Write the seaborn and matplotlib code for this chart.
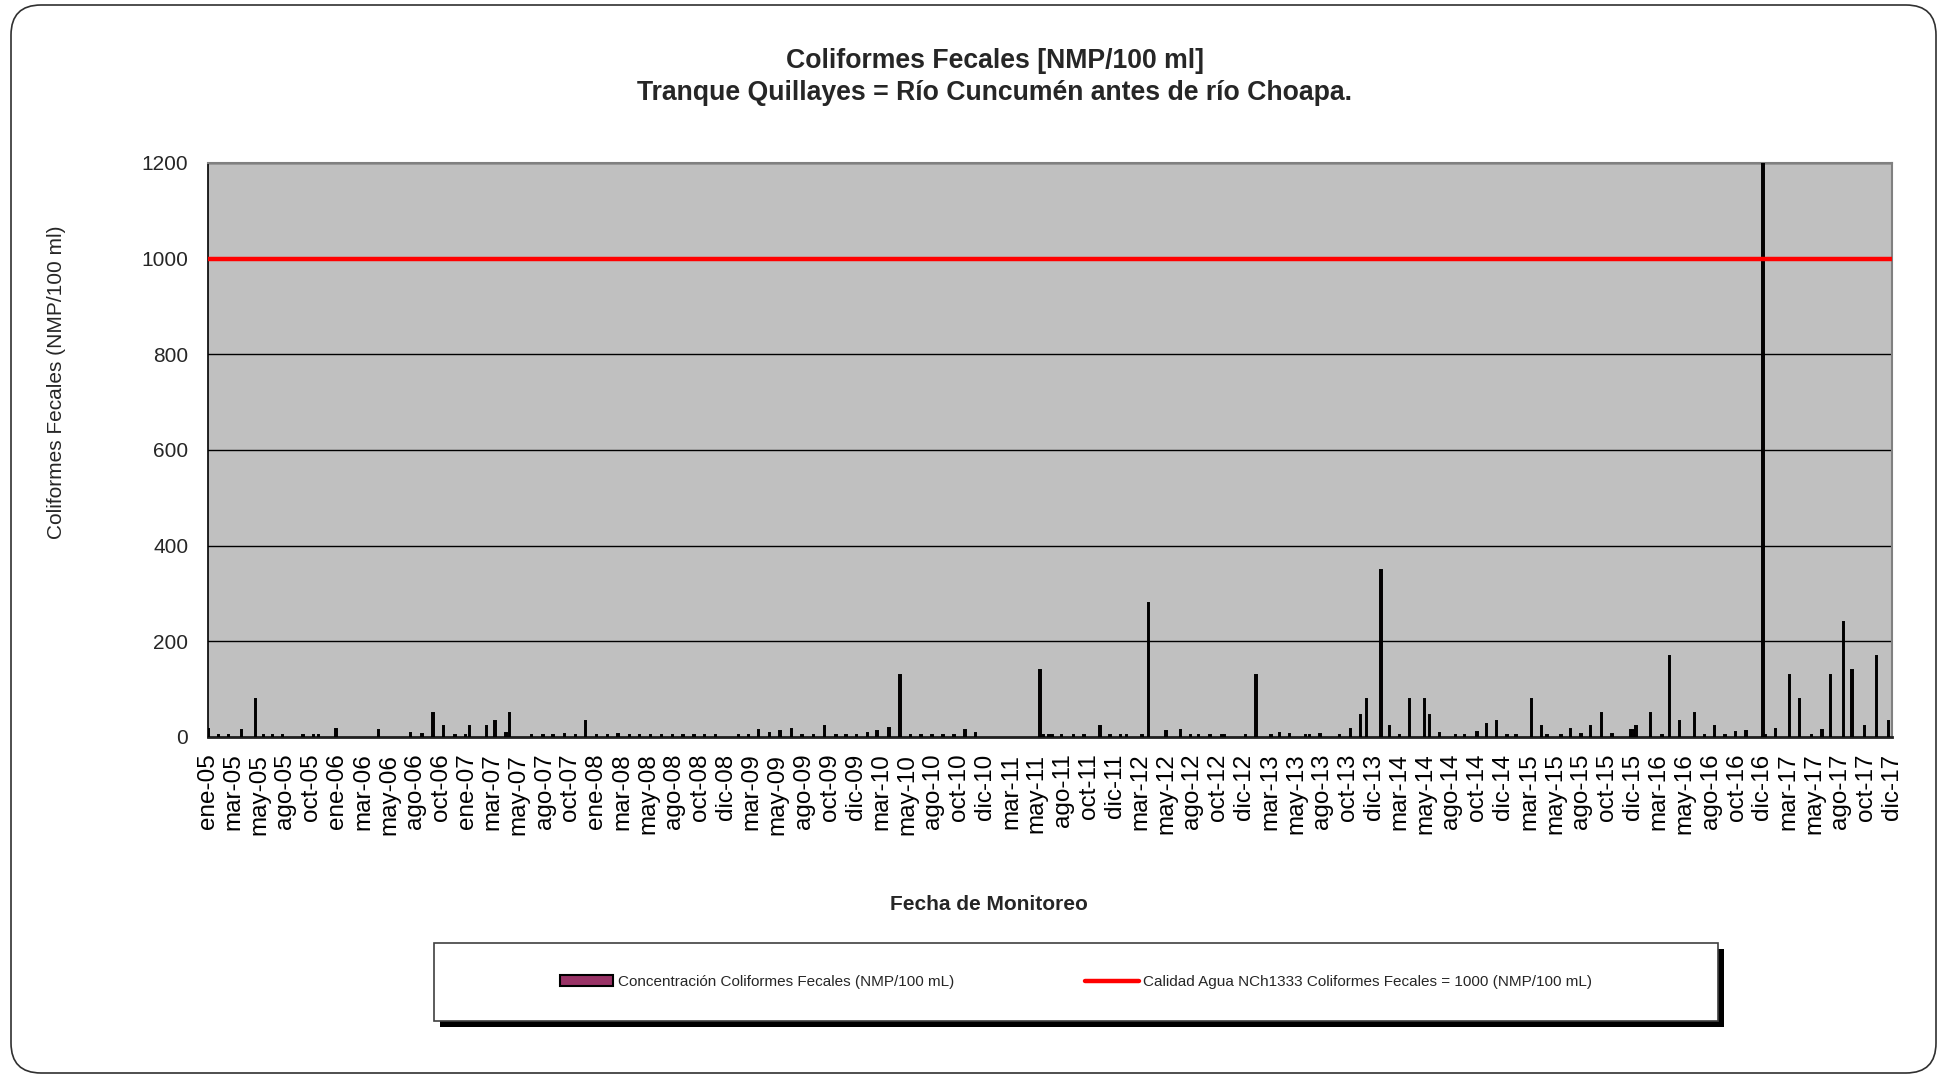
import numpy as np
import pandas as pd
import matplotlib
matplotlib.use("Agg")
import matplotlib.pyplot as plt
import matplotlib.dates as mdates
from matplotlib.patches import FancyBboxPatch, Rectangle, Patch
from matplotlib.lines import Line2D
import seaborn as sns

## Fechas de muestreo y concentracion (NMP/100 mL)
fechas = [
    "2005-01-02", "2005-01-31", "2005-02-28", "2005-04-07", "2005-05-16", "2005-06-07",
    "2005-07-03", "2005-07-31", "2005-09-26", "2005-10-26", "2005-11-09", "2005-12-28",
    "2006-04-27", "2006-07-26", "2006-08-28", "2006-09-28", "2006-10-27", "2006-11-29",
    "2006-12-28",
    "2007-01-08", "2007-02-25", "2007-03-21", "2007-04-21", "2007-05-01", "2007-07-03",
    "2007-08-04", "2007-09-01", "2007-10-03", "2007-11-03", "2007-12-01",
    "2008-01-01", "2008-02-01", "2008-03-02", "2008-04-04", "2008-05-02", "2008-06-01",
    "2008-07-02", "2008-08-02", "2008-09-01", "2008-10-02", "2008-11-01", "2008-12-02",
    "2009-02-04", "2009-03-04", "2009-04-01", "2009-05-02", "2009-06-01", "2009-07-03",
    "2009-08-02", "2009-09-03", "2009-10-04", "2009-11-06", "2009-12-04",
    "2010-01-02", "2010-02-03", "2010-03-02", "2010-04-04", "2010-05-05", "2010-06-04",
    "2010-07-04", "2010-08-04", "2010-09-04", "2010-10-04", "2010-11-04", "2010-12-04",
    "2011-06-04", "2011-06-13", "2011-06-29", "2011-07-08", "2011-08-04", "2011-09-06",
    "2011-10-06", "2011-11-20", "2011-12-18",
    "2012-01-17", "2012-02-03", "2012-03-17", "2012-04-04", "2012-05-24", "2012-07-03",
    "2012-07-31", "2012-08-23", "2012-09-25", "2012-10-28", "2012-11-05",
    "2013-01-02", "2013-02-01", "2013-03-15", "2013-04-08", "2013-05-07", "2013-06-20",
    "2013-07-02", "2013-08-01", "2013-09-24", "2013-10-25", "2013-11-22", "2013-12-09",
    "2014-01-20", "2014-02-12", "2014-03-13", "2014-04-09", "2014-05-22", "2014-06-05",
    "2014-07-03", "2014-08-17", "2014-09-11", "2014-10-17", "2014-11-12", "2014-12-10",
    "2015-01-09", "2015-02-04", "2015-03-19", "2015-04-16", "2015-05-02", "2015-06-10",
    "2015-07-07", "2015-08-06", "2015-09-01", "2015-10-02", "2015-11-01", "2015-12-24",
    "2015-12-30",
    "2016-01-08", "2016-02-17", "2016-03-21", "2016-04-11", "2016-05-10", "2016-06-21",
    "2016-07-19", "2016-08-16", "2016-09-15", "2016-10-14", "2016-11-13", "2016-12-30",
    "2017-01-06", "2017-02-03", "2017-03-15", "2017-04-13", "2017-05-17", "2017-06-15",
    "2017-07-08", "2017-08-15", "2017-09-07", "2017-10-12", "2017-11-15", "2017-12-19",
]
coliformes = [
    17, 4, 4, 15, 80, 4,
    4, 4, 4, 4, 4, 17,
    15, 8, 6, 50, 24, 4,
    5,
    22, 24, 34, 9, 50, 4,
    4, 4, 7, 4, 34,
    4, 4, 6, 4, 4, 4,
    4, 4, 4, 4, 4, 4,
    5, 4, 14, 8, 12, 17,
    4, 4, 24, 4, 4,
    4, 9, 13, 18, 130, 5,
    4, 4, 4, 5, 15, 9,
    140, 4, 4, 4, 4, 4,
    4, 24, 4,
    4, 4, 4, 280, 13, 15,
    4, 4, 4, 4, 4,
    5, 130, 4, 9, 7, 4,
    4, 7, 4, 17, 47, 80,
    350, 24, 4, 80, 80, 47,
    8, 4, 4, 10, 28, 34,
    4, 4, 80, 24, 4, 4,
    17, 7, 24, 50, 7, 14,
    14,
    24, 50, 4, 170, 33, 50,
    4, 24, 4, 10, 13, 1600,
    4, 17, 130, 80, 4, 15,
    130, 240, 140, 24, 170, 33,
]

## Etiquetas del eje (una marca cada 73 dias desde ene-05)
tick_labels = [
    "ene-05", "mar-05", "may-05", "ago-05", "oct-05",
    "ene-06", "mar-06", "may-06", "ago-06", "oct-06",
    "ene-07", "mar-07", "may-07", "ago-07", "oct-07",
    "ene-08", "mar-08", "may-08", "ago-08", "oct-08",
    "dic-08", "mar-09", "may-09", "ago-09", "oct-09",
    "dic-09", "mar-10", "may-10", "ago-10", "oct-10",
    "dic-10", "mar-11", "may-11", "ago-11", "oct-11",
    "dic-11", "mar-12", "may-12", "ago-12", "oct-12",
    "dic-12", "mar-13", "may-13", "ago-13", "oct-13",
    "dic-13", "mar-14", "may-14", "ago-14", "oct-14",
    "dic-14", "mar-15", "may-15", "ago-15", "oct-15",
    "dic-15", "mar-16", "may-16", "ago-16", "oct-16",
    "dic-16", "mar-17", "may-17", "ago-17", "oct-17",
    "dic-17",
]
limite_norma = 1000

df = pd.DataFrame({"Fecha": pd.to_datetime(fechas), "Coliformes": coliformes})

inicio = pd.Timestamp("2005-01-01")
tick_dates = [inicio + pd.Timedelta(days=73 * i) for i in range(len(tick_labels))]
fin = tick_dates[-1]

sns.set_style("white")
plt.rcParams['font.family'] = ['Liberation Sans', 'DejaVu Sans']

fig = plt.figure(figsize=(19.39, 10.76), dpi=100)
ax = fig.add_axes([0.10712, 0.31506, 0.86864, 0.53346])
ax.set_facecolor("#C0C0C0")

# barras de concentracion
ax.bar(mdates.date2num(df["Fecha"]), df["Coliformes"], width=4,
       color="#993366", edgecolor="black", linewidth=1.4, zorder=3)

# linea de norma NCh1333
norma = pd.DataFrame({"Fecha": [inicio, fin], "Norma": [limite_norma, limite_norma]})
sns.lineplot(data=norma, x="Fecha", y="Norma", ax=ax, color="#FF0000", linewidth=3.2, zorder=4)

ax.set_xlim(mdates.date2num(inicio), mdates.date2num(fin))
ax.set_ylim(0, 1200)
ax.set_yticks(range(0, 1201, 200))
ax.yaxis.grid(True, color="black", linewidth=1)
ax.set_axisbelow(True)

ax.set_xticks(mdates.date2num(tick_dates))
ax.set_xticklabels(tick_labels, rotation=90, fontsize=17.5)
ax.tick_params(axis="x", direction="inout", length=12, width=1, pad=6, colors="black")
ax.tick_params(axis="y", direction="out", length=6, width=1, labelsize=15, pad=8)
ax.set_xlabel("")
ax.set_ylabel("")

ax.spines["left"].set_color("black")
ax.spines["left"].set_linewidth(1.2)
ax.spines["bottom"].set_color("#202020")
ax.spines["bottom"].set_linewidth(2)
for s in ["top", "right"]:
    ax.spines[s].set_color("#808080")
    ax.spines[s].set_linewidth(1.5)

# titulos y etiquetas
fig.text(0.513, 1 - 60.6 / 1076, "Coliformes Fecales [NMP/100 ml]", ha="center", va="center",
         fontsize=19.2, fontweight="bold")
fig.text(0.513, 1 - 92.7 / 1076, "Tranque Quillayes = Río Cuncumén antes de río Choapa.",
         ha="center", va="center", fontsize=19.2, fontweight="bold")
fig.text(56 / 1939, 1 - 382 / 1076, "Coliformes Fecales (NMP/100 ml)", rotation=90,
         ha="center", va="center", fontsize=15)
fig.text(989 / 1939, 1 - 904 / 1076, "Fecha de Monitoreo", ha="center", va="center",
         fontsize=15, fontweight="bold")

# marco exterior redondeado
marco = FancyBboxPatch((0.11, 0.03), 19.25, 10.68, boxstyle="round,pad=0,rounding_size=0.3",
                       transform=fig.dpi_scale_trans, facecolor="none", edgecolor="#303030",
                       linewidth=1.2, zorder=0)
fig.add_artist(marco)

# caja de leyenda con sombra
sombra = Rectangle((434 / 1939 + 0.0031, 1 - 1021 / 1076 - 0.0056), 1284 / 1939, 78 / 1076,
                   transform=fig.transFigure, facecolor="black", edgecolor="none", zorder=1)
caja = Rectangle((434 / 1939, 1 - 1021 / 1076), 1284 / 1939, 78 / 1076,
                 transform=fig.transFigure, facecolor="white", edgecolor="#404040",
                 linewidth=1.2, zorder=2)
fig.add_artist(sombra)
fig.add_artist(caja)

handles = [Patch(facecolor="#993366", edgecolor="black", linewidth=1.5),
           Line2D([], [], color="#FF0000", linewidth=3.2)]
labels = ["Concentración Coliformes Fecales (NMP/100 mL)",
          "Calidad Agua NCh1333 Coliformes Fecales = 1000 (NMP/100 mL)"]
leg = fig.legend(handles, labels, loc="center", bbox_to_anchor=(1076 / 1939, 1 - 982 / 1076),
                 ncol=2, frameon=False, fontsize=11, handlelength=3.5, handletextpad=0.3,
                 columnspacing=8.6)
leg.set_zorder(5)

fig.savefig("out.png", dpi=100)
